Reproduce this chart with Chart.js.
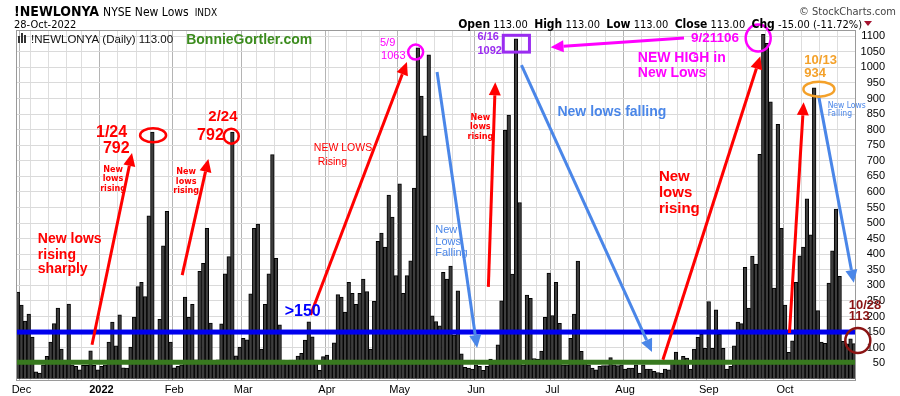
<!DOCTYPE html>
<html>
<head>
<meta charset="utf-8">
<script src="https://cdn.jsdelivr.net/npm/chart.js@4.4.0/dist/chart.umd.min.js"></script>
<style>
  html, body { margin: 0; padding: 0; background: #fff; }
  canvas { display: block; }
</style>
</head>
<body>
<canvas id="lowsChart" width="900" height="396"></canvas>
<script>
// NYSE new lows, daily bars, 30-Nov-2021 .. 28-Oct-2022
const lowsNov = [278];
const lowsDec = [237, 185, 208, 134, 22, 18, 45, 72, 118, 177, 227, 95, 60, 240, 45, 40, 29, 43, 43, 90, 43, 29];
const lowsJan = [40, 45, 118, 182, 106, 205, 35, 34, 102, 198, 296, 310, 264, 523, 792, 50, 191, 427, 538, 118];
const lowsFeb = [35, 40, 45, 262, 197, 239, 61, 345, 371, 483, 179, 55, 61, 176, 337, 392, 792, 74, 102];
const lowsMar = [130, 125, 273, 483, 497, 95, 239, 337, 720, 387, 173, 60, 55, 60, 60, 73, 82, 124, 183, 135, 60, 27, 71];
const lowsApr = [76, 60, 115, 270, 262, 214, 310, 274, 239, 274, 320, 280, 95, 249, 441, 468, 423, 590, 519, 331];
const lowsMay = [626, 274, 331, 379, 612, 1063, 908, 780, 1040, 202, 184, 170, 342, 320, 362, 141, 282, 80, 37, 34, 31];
const lowsJun = [45, 40, 27, 40, 63, 60, 109, 250, 799, 847, 336, 1092, 566, 45, 269, 258, 65, 63, 89, 197, 339];
const lowsJul = [203, 310, 178, 45, 45, 130, 208, 378, 88, 55, 45, 34, 29, 40, 42, 42, 68, 45, 42, 45];
const lowsAug = [31, 34, 34, 45, 18, 45, 31, 31, 24, 20, 18, 31, 29, 59, 86, 50, 72, 66, 31, 95, 133, 143, 98];
const lowsSep = [248, 98, 221, 143, 98, 31, 40, 106, 182, 177, 358, 227, 394, 368, 721, 1106, 1077, 889, 291, 817, 483];
const lowsOct = [237, 85, 122, 310, 395, 423, 578, 462, 934, 219, 118, 114, 307, 411, 545, 329, 120, 112, 128, 113];

const newLows = [...lowsNov, ...lowsDec, ...lowsJan, ...lowsFeb, ...lowsMar, ...lowsApr,
                 ...lowsMay, ...lowsJun, ...lowsJul, ...lowsAug, ...lowsSep, ...lowsOct];

const holidays = ['2021-12-24', '2022-01-17', '2022-02-21', '2022-04-15', '2022-05-30', '2022-06-20', '2022-07-04', '2022-09-05'];
const monthNames = ['Jan', 'Feb', 'Mar', 'Apr', 'May', 'Jun', 'Jul', 'Aug', 'Sep', 'Oct', 'Nov', 'Dec'];
const yTicks = [50, 100, 150, 200, 250, 300, 350, 400, 450, 500, 550, 600, 650, 700, 750, 800, 850, 900, 950, 1000, 1050, 1100];
const blueLevel = 150;
const greenLevel = 53;

// trading days (weekdays minus NYSE holidays)
const tradingDays = [];
for (let d = new Date(Date.UTC(2021, 10, 30)); d <= new Date(Date.UTC(2022, 9, 28)); d.setUTCDate(d.getUTCDate() + 1)) {
  const iso = d.toISOString().slice(0, 10);
  const wd = d.getUTCDay();
  if (wd === 0 || wd === 6 || holidays.includes(iso)) continue;
  tradingDays.push(iso);
}

const isMonthStart = i => i > 0 && i < tradingDays.length && tradingDays[i].slice(5, 7) !== tradingDays[i - 1].slice(5, 7);
const isWeekStart = i => i > 0 && i < tradingDays.length && new Date(tradingDays[i]).getUTCDay() < new Date(tradingDays[i - 1]).getUTCDay();
const xTickLabels = tradingDays.map((d, i) => {
  if (!isMonthStart(i)) return '';
  const m = +d.slice(5, 7);
  return m === 1 ? d.slice(0, 4) : monthNames[m - 1];
});

const SANS = '"Liberation Sans", Arial, sans-serif';
const NARROW = '"DejaVu Sans Condensed", "Liberation Sans", sans-serif';
const RED = '#ff0000', BLUE = '#4a86e8', MAGENTA = '#ff00ff', PURPLE = '#9a2cf0', ORANGE = '#f4a12a', DARKRED = '#8b1414';

// annotation text, placed at [bar index, value]
const notes = [
  { t: '1/24', at: [21.5, 789], c: RED, f: 'bold 16px ' + SANS },
  { t: '792', at: [23.4, 740], c: RED, f: 'bold 16px ' + SANS },
  { t: 'New', at: [26.2, 670], c: RED, f: 'bold 9px ' + NARROW, align: 'center' },
  { t: 'lows', at: [26.2, 641], c: RED, f: 'bold 9px ' + NARROW, align: 'center' },
  { t: 'rising', at: [26.2, 612], c: RED, f: 'bold 9px ' + NARROW, align: 'center' },
  { t: 'New lows', at: [5.5, 449], c: RED, f: 'bold 14px ' + SANS },
  { t: 'rising', at: [5.5, 397], c: RED, f: 'bold 14px ' + SANS },
  { t: 'sharply', at: [5.5, 353], c: RED, f: 'bold 14px ' + SANS },
  { t: '2/24', at: [52.4, 840], c: RED, f: 'bold 15px ' + SANS },
  { t: '792', at: [49.3, 782], c: RED, f: 'bold 16px ' + SANS },
  { t: 'New', at: [46.3, 664], c: RED, f: 'bold 9px ' + NARROW, align: 'center' },
  { t: 'lows', at: [46.3, 632], c: RED, f: 'bold 9px ' + NARROW, align: 'center' },
  { t: 'rising', at: [46.3, 603], c: RED, f: 'bold 9px ' + NARROW, align: 'center' },
  { t: 'BonnieGortler.com', at: [46.3, 1087], c: '#3c8c1e', f: 'bold 14px ' + SANS },
  { t: '>150', at: [73.4, 215], c: '#0000ff', f: 'bold 16px ' + SANS },
  { t: 'NEW LOWS', at: [81.4, 741], c: RED, f: '10.5px ' + SANS },
  { t: 'Rising', at: [82.5, 696], c: RED, f: '10.5px ' + SANS },
  { t: '5/9', at: [99.6, 1078], c: MAGENTA, f: '11px ' + SANS },
  { t: '1063', at: [99.9, 1038], c: MAGENTA, f: '11px ' + SANS },
  { t: 'New', at: [114.8, 478], c: BLUE, f: '11px ' + SANS },
  { t: 'Lows', at: [114.8, 439], c: BLUE, f: '11px ' + SANS },
  { t: 'Falling', at: [114.8, 404], c: BLUE, f: '11px ' + SANS },
  { t: '6/16', at: [126.4, 1097], c: PURPLE, f: 'bold 11px ' + SANS },
  { t: '1092', at: [126.4, 1052], c: PURPLE, f: 'bold 11px ' + SANS },
  { t: 'New', at: [127.2, 837], c: RED, f: 'bold 9px ' + NARROW, align: 'center' },
  { t: 'lows', at: [127.2, 808], c: RED, f: 'bold 9px ' + NARROW, align: 'center' },
  { t: 'rising', at: [127.2, 776], c: RED, f: 'bold 9px ' + NARROW, align: 'center' },
  { t: 'New lows falling', at: [148.4, 856], c: BLUE, f: 'bold 14px ' + SANS },
  { t: 'NEW HIGH in', at: [170.5, 1029], c: MAGENTA, f: 'bold 14px ' + SANS },
  { t: 'New Lows', at: [170.5, 981], c: MAGENTA, f: 'bold 14px ' + SANS },
  { t: '9/21106', at: [185.1, 1094], c: MAGENTA, f: 'bold 13.5px ' + SANS },
  { t: '3', at: [185.7, 1026], c: MAGENTA, f: '10px ' + SANS },
  { t: 'New', at: [176.3, 648], c: RED, f: 'bold 15px ' + SANS },
  { t: 'lows', at: [176.3, 596], c: RED, f: 'bold 15px ' + SANS },
  { t: 'rising', at: [176.3, 545], c: RED, f: 'bold 15px ' + SANS },
  { t: '10/13', at: [216.3, 1023], c: ORANGE, f: 'bold 13px ' + SANS },
  { t: '934', at: [216.3, 981], c: ORANGE, f: 'bold 13px ' + SANS },
  { t: 'New Lows', at: [222.7, 878], c: BLUE, f: '8.5px ' + NARROW },
  { t: 'Falling', at: [222.7, 850], c: BLUE, f: '8.5px ' + NARROW },
  { t: '10/28', at: [228.5, 237], c: DARKRED, f: 'bold 13px ' + SANS },
  { t: '113', at: [228.5, 199], c: DARKRED, f: 'bold 13px ' + SANS }
];

const arrows = [
  { from: [20.4, 109], to: [31.4, 725], c: RED },
  { from: [45.2, 333], to: [52.4, 706], c: RED },
  { from: [80.5, 205], to: [107.0, 1017], c: RED },
  { from: [115.3, 985], to: [126.3, 99], c: BLUE },
  { from: [129.4, 295], to: [131.3, 952], c: RED },
  { from: [138.5, 1007], to: [174.4, 86], c: BLUE },
  { from: [183.2, 1094], to: [146.5, 1065], c: MAGENTA },
  { from: [177.4, 61], to: [204.2, 1036], c: RED },
  { from: [212.2, 147], to: [216.1, 888], c: RED },
  { from: [220.2, 910], to: [229.9, 308], c: BLUE }
];

const rings = [
  { at: [37.2, 782], rx: 13, ry: 7, c: RED },
  { at: [58.7, 779], rx: 7.5, ry: 7.5, c: RED },
  { at: [109.4, 1049], rx: 7.5, ry: 7.5, c: MAGENTA },
  { at: [203.6, 1094], rx: 12.5, ry: 13.5, c: MAGENTA },
  { at: [220.3, 930], rx: 15.5, ry: 7.5, c: ORANGE },
  { at: [231.0, 123], rx: 12.5, ry: 12.5, c: DARKRED }
];
const boxes = [{ from: [133.5, 1103], to: [140.7, 1049], c: PURPLE }];

function drawArrow(ctx, x0, y0, x1, y1, color) {
  const head = 13, half = 6;
  const ang = Math.atan2(y1 - y0, x1 - x0);
  const bx = x1 - head * Math.cos(ang), by = y1 - head * Math.sin(ang);
  ctx.strokeStyle = color;
  ctx.lineWidth = 3;
  ctx.beginPath();
  ctx.moveTo(x0, y0);
  ctx.lineTo(bx, by);
  ctx.stroke();
  ctx.fillStyle = color;
  ctx.beginPath();
  ctx.moveTo(x1, y1);
  ctx.lineTo(bx + half * Math.sin(ang), by - half * Math.cos(ang));
  ctx.lineTo(bx - half * Math.sin(ang), by + half * Math.cos(ang));
  ctx.closePath();
  ctx.fill();
}

const decor = {
  id: 'decor',
  afterDatasetsDraw(chart) {
    const { ctx, chartArea: a, scales: { x, y } } = chart;
    const P = p => [x.getPixelForValue(p[0]), y.getPixelForValue(p[1])];
    ctx.save();

    // support levels
    [[blueLevel, '#0000ee'], [greenLevel, '#38791f']].forEach(([v, c]) => {
      ctx.fillStyle = c;
      ctx.fillRect(a.left, y.getPixelForValue(v) - 2.5, a.right - a.left, 5);
    });

    // plot frame
    ctx.strokeStyle = '#9a9a9a';
    ctx.lineWidth = 1;
    ctx.strokeRect(a.left + 0.5, a.top + 0.5, a.right - a.left - 1, a.bottom - a.top);

    arrows.forEach(ar => {
      const [x0, y0] = P(ar.from), [x1, y1] = P(ar.to);
      drawArrow(ctx, x0, y0, x1, y1, ar.c);
    });

    ctx.lineWidth = 2.5;
    rings.forEach(r => {
      const [cx, cy] = P(r.at);
      ctx.strokeStyle = r.c;
      ctx.beginPath();
      ctx.ellipse(cx, cy, r.rx, r.ry, 0, 0, Math.PI * 2);
      ctx.stroke();
    });
    ctx.lineWidth = 3;
    boxes.forEach(b => {
      const [x0, y0] = P(b.from), [x1, y1] = P(b.to);
      ctx.strokeStyle = b.c;
      ctx.strokeRect(x0, y0, x1 - x0, y1 - y0);
    });

    ctx.textBaseline = 'middle';
    notes.forEach(n => {
      const [px, py] = P(n.at);
      ctx.font = n.f;
      ctx.fillStyle = n.c;
      ctx.textAlign = n.align || 'left';
      ctx.fillText(n.t, px, py);
    });
    ctx.restore();
  },
  afterDraw(chart) {
    const { ctx } = chart;
    ctx.save();
    ctx.textBaseline = 'alphabetic';
    ctx.textAlign = 'left';
    ctx.fillStyle = '#000';
    ctx.font = 'bold 14px ' + NARROW;
    ctx.fillText('!NEWLONYA', 14, 16);
    let hx = 14 + ctx.measureText('!NEWLONYA').width + 4;
    ctx.font = '12px ' + NARROW;
    ctx.fillText('NYSE New Lows', hx, 16);
    hx += ctx.measureText('NYSE New Lows').width + 6;
    ctx.font = '10px ' + NARROW;
    ctx.fillText('INDX', hx, 16);
    ctx.font = '11px ' + NARROW;
    ctx.fillText('28-Oct-2022', 14, 28);

    ctx.fillStyle = '#444';
    ctx.font = '11px ' + NARROW;
    ctx.textAlign = 'right';
    ctx.fillText('\u00a9 StockCharts.com', 896, 15);

    // quote line, laid out right to left
    const parts = [['Open', 1], [' 113.00  ', 0], ['High', 1], [' 113.00  ', 0], ['Low', 1], [' 113.00  ', 0],
                   ['Close', 1], [' 113.00  ', 0], ['Chg', 1], [' -15.00 (-11.72%)', 0]];
    const fonts = ['11px ' + NARROW, 'bold 12px ' + NARROW];
    let total = 0;
    parts.forEach(([s, b]) => { ctx.font = fonts[b]; total += ctx.measureText(s).width; });
    let px = 862 - total;
    ctx.textAlign = 'left';
    ctx.fillStyle = '#000';
    parts.forEach(([s, b]) => { ctx.font = fonts[b]; ctx.fillText(s, px, 28); px += ctx.measureText(s).width; });
    ctx.fillStyle = '#a3122e';
    ctx.beginPath();
    ctx.moveTo(864, 21); ctx.lineTo(872, 21); ctx.lineTo(868, 26); ctx.closePath(); ctx.fill();

    // in-plot legend
    ctx.fillStyle = '#333';
    ctx.fillRect(18, 36, 2, 7);
    ctx.fillRect(21, 33, 2, 10);
    ctx.fillRect(24, 35, 2, 8);
    ctx.font = '11.5px ' + SANS;
    ctx.fillStyle = '#111';
    ctx.fillText('!NEWLONYA (Daily) 113.00', 31, 43);
    ctx.restore();
  }
};

const chartCtx = document.getElementById('lowsChart').getContext('2d');
const lowsChart = new Chart(chartCtx, {
  type: 'bar',
  data: {
    labels: tradingDays,
    datasets: [{
      data: newLows,
      backgroundColor: '#3d3d3d',
      borderColor: '#000',
      borderWidth: 1,
      barPercentage: 1,
      categoryPercentage: 1
    }]
  },
  options: {
    responsive: false,
    animation: false,
    devicePixelRatio: 1,
    layout: { padding: { left: 16, top: 30, right: 15, bottom: 0 } },
    plugins: { legend: { display: false }, tooltip: { enabled: false } },
    scales: {
      x: {
        grid: {
          offset: true,
          drawTicks: false,
          color: c => isMonthStart(c.index) ? '#b4b4b4' : (isWeekStart(c.index) ? '#dedede' : 'rgba(0,0,0,0)')
        },
        border: { display: false },
        ticks: {
          autoSkip: false,
          maxRotation: 0,
          padding: 3,
          color: '#000',
          callback: (v, i) => xTickLabels[i],
          font: c => ({ family: SANS, size: 11, weight: (c.tick && c.tick.label === '2022') ? 'bold' : 'normal' })
        },
        afterFit: s => { s.height = 16; }
      },
      y: {
        position: 'right',
        min: -4,
        max: 1120,
        afterBuildTicks: s => { s.ticks = yTicks.map(v => ({ value: v })); },
        grid: { color: '#dadada', drawTicks: false },
        border: { display: false },
        ticks: {
          padding: 5,
          crossAlign: 'far',
          color: '#000',
          font: { family: SANS, size: 11 },
          callback: v => String(v)
        },
        afterFit: s => { s.width = 29; }
      }
    }
  },
  plugins: [decor]
});
</script>
</body>
</html>
